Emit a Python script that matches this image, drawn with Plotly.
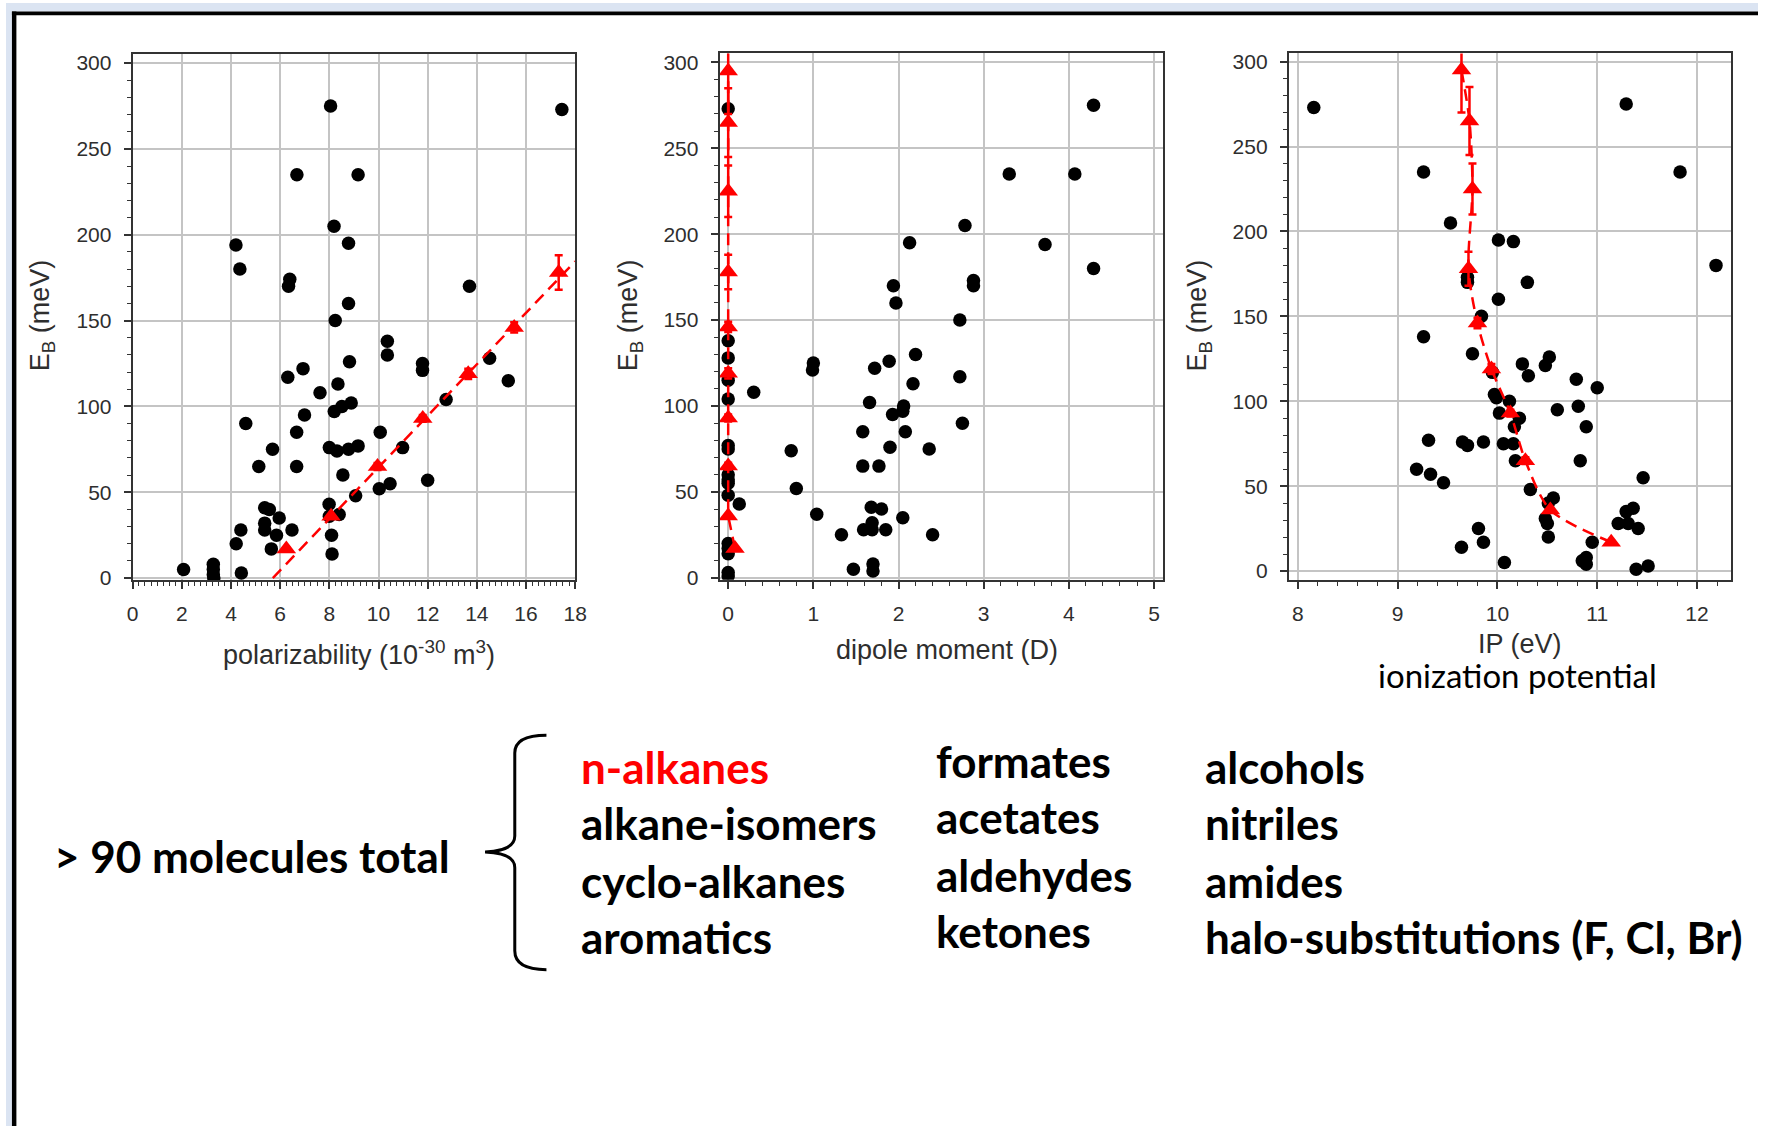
import numpy as np
import plotly.graph_objects as go

W, H = 1770, 1135

# ---------------- data ----------------
# panel 1: binding energy vs polarizability (all molecules)
pol_x = [8.05, 17.46, 6.68, 9.17, 8.19, 4.2, 8.78, 4.36, 6.39, 6.34, 13.7, 8.78, 8.24,
         10.36, 10.36, 8.82, 6.93, 6.31, 11.79, 11.79, 14.52, 15.28, 8.35,
         7.62, 12.75, 8.89, 8.51, 8.2, 6.99, 4.6, 6.67, 10.07, 5.69,
         8.0, 8.31, 8.78, 9.17, 10.98, 5.13, 6.67, 8.55, 12.0, 10.47,
         10.03, 9.07, 7.99, 5.37, 5.56, 8.4, 8.0, 5.96, 5.37, 5.37,
         4.4, 6.48, 5.85, 8.09, 4.21, 5.64, 8.11, 2.07, 3.28, 3.28,
         3.28, 3.3, 4.42]
pol_y = [275, 273, 235, 235, 205, 194, 195, 180, 174, 170, 170, 160, 150,
         138, 130, 126, 122, 117, 125, 121, 128, 115, 113,
         108, 104, 102, 100, 97, 95, 90, 85, 85, 75,
         76, 74, 75, 77, 76, 65, 65, 60, 57, 55,
         52, 48, 43, 41, 40, 37, 36, 35, 32, 28,
         28, 28, 25, 25, 20, 17, 14, 5, 8, 5,
         2, 0, 3]

# panel 2: binding energy vs dipole moment
dip_x = [0, 4.29, 3.3, 4.07, 2.78, 2.13, 3.72, 4.29, 2.88, 2.88,
         1.94, 1.97, 2.72, 0, 0, 1.0, 0.99, 1.72, 1.89, 2.2,
         2.72, 2.17, 0, 0.3, 0, 1.66, 2.06, 2.05, 1.93, 2.75,
         1.58, 2.08, 0, 0, 0.74, 1.9, 2.36, 1.58, 1.77, 0,
         0, 0, 0.8, 0, 0.13, 1.68, 1.8, 1.04, 2.05, 1.69,
         1.59, 1.69, 1.85, 1.33, 2.4, 0, 0, 0, 1.47, 1.7,
         1.7, 0, 0]
dip_y = [273, 275, 235, 235, 205, 195, 194, 180, 173, 170,
         170, 160, 150, 138, 128, 125, 121, 122, 126, 130,
         117, 113, 115, 108, 104, 102, 100, 97, 95, 90,
         85, 85, 77, 75, 74, 76, 75, 65, 65, 60,
         57, 55, 52, 48, 43, 41, 40, 37, 35, 32,
         28, 28, 28, 25, 25, 20, 17, 14, 5, 8,
         4, 3, 1]

# panel 3: binding energy vs ionization potential
ip_x = [8.16, 11.29, 9.26, 11.83, 9.53, 10.01, 10.16, 12.19, 9.70, 9.70,
        10.30, 10.01, 9.84, 9.26, 9.75, 10.25, 10.48, 10.52, 10.31, 10.79,
        11.0, 9.97, 9.99, 10.12, 10.02, 10.22, 10.6, 10.81, 10.17, 10.89,
        9.31, 9.65, 9.70, 9.86, 10.06, 10.16, 10.18, 10.83, 9.19, 9.33,
        9.46, 11.46, 10.33, 10.56, 10.51, 10.48, 10.5, 11.36, 11.29, 11.21,
        11.31, 11.41, 9.81, 10.51, 9.86, 10.95, 9.64, 10.07, 10.85, 10.89,
        10.89, 11.39, 11.51, 9.95]
ip_y = [273, 275, 235, 235, 205, 195, 194, 180, 173, 170,
        170, 160, 150, 138, 128, 122, 121, 126, 115, 113,
        108, 104, 102, 100, 93, 90, 95, 97, 85, 85,
        77, 76, 74, 76, 75, 75, 65, 65, 60, 57,
        52, 55, 48, 43, 40, 31, 28, 37, 35, 28,
        28, 25, 25, 20, 17, 17, 14, 5, 6, 8,
        4, 1, 3, 117]

# n-alkanes (red triangles)
nalk_eb = [17, 36, 65, 93, 119, 146, 178, 225, 265, 295]
nalk_err = [1, 1, 2, 2, 3, 3, 10, 15, 20, 25]
nalk_pol = [6.25, 8.07, 9.96, 11.8, 13.65, 15.52, 17.33]   # only those inside 0..18
nalk_dip = [0.08, 0, 0, 0, 0, 0, 0, 0, 0, 0]
nalk_ip = [11.14, 10.53, 10.28, 10.13, 9.94, 9.80, 9.71, 9.75, 9.72, 9.64]

# linear fit of n-alkanes vs polarizability
fit_slope = 15.0          # meV per 10^-30 m^3
fit_x_intercept = 5.7
fit_x_end = 18.0

# groups listed below the charts
col1 = ["n-alkanes", "alkane-isomers", "cyclo-alkanes", "aromatics"]
col2 = ["formates", "acetates", "aldehydes", "ketones"]
col3 = ["alcohols", "nitriles", "amides", "halo-substitutions (F, Cl, Br)"]

# ---------------- helpers ----------------
def fx(p):
    return p / W


def fy(p):
    return 1 - p / H


RED = "#ff0000"
TICKFONT = dict(family="Liberation Sans, Arial, sans-serif", size=21, color="#2e2e2e")
TITLEFONT = dict(family="Liberation Sans, Arial, sans-serif", size=27, color="#2e2e2e")
TEXTFONT = dict(family="Lato, sans-serif", size=44, color="#000000")

fig = go.Figure()

dot = dict(color="black", size=13.5, line=dict(width=0))
tri = dict(color=RED, size=17, symbol="triangle-up", line=dict(width=0))
dash_line = dict(color=RED, width=2.5, dash="12px,7px")
err = lambda arr: dict(type="data", array=arr, color=RED, thickness=2.5, width=4)

# panel 1
fig.add_trace(go.Scatter(x=pol_x, y=pol_y, mode="markers", marker=dot,
                         xaxis="x", yaxis="y", showlegend=False))
fit_x = np.array([fit_x_intercept, fit_x_end])
fit_y = fit_slope * (fit_x - fit_x_intercept)
fig.add_trace(go.Scatter(x=fit_x, y=fit_y, mode="lines", line=dash_line,
                         xaxis="x", yaxis="y", showlegend=False))
n_pol = len(nalk_pol)
fig.add_trace(go.Scatter(x=nalk_pol, y=nalk_eb[:n_pol], mode="markers", marker=tri,
                         error_y=err(nalk_err[:n_pol]),
                         xaxis="x", yaxis="y", showlegend=False))

# panel 2
fig.add_trace(go.Scatter(x=dip_x, y=dip_y, mode="markers", marker=dot,
                         xaxis="x2", yaxis="y2", showlegend=False))
fig.add_trace(go.Scatter(x=nalk_dip, y=nalk_eb, mode="lines", line=dash_line,
                         xaxis="x2", yaxis="y2", showlegend=False))
fig.add_trace(go.Scatter(x=nalk_dip, y=nalk_eb, mode="markers", marker=tri,
                         error_y=err(nalk_err),
                         xaxis="x2", yaxis="y2", showlegend=False))

# panel 3
fig.add_trace(go.Scatter(x=ip_x, y=ip_y, mode="markers", marker=dot,
                         xaxis="x3", yaxis="y3", showlegend=False))
fig.add_trace(go.Scatter(x=nalk_ip, y=nalk_eb, mode="lines",
                         line=dict(dash_line, shape="spline", smoothing=0.8),
                         xaxis="x3", yaxis="y3", showlegend=False))
fig.add_trace(go.Scatter(x=nalk_ip, y=nalk_eb, mode="markers", marker=tri,
                         error_y=err(nalk_err),
                         xaxis="x3", yaxis="y3", showlegend=False))


def xax(dom, rng, dtick, minor, anchor):
    return dict(domain=[fx(dom[0]), fx(dom[1])], range=rng, dtick=dtick, tick0=0,
                anchor=anchor, showline=True, mirror=True, linecolor="#333333",
                linewidth=2, ticks="outside", ticklen=7, tickwidth=1.5,
                tickcolor="#333333", showgrid=True, gridcolor="#c4c4c4",
                gridwidth=1.5, zeroline=False, tickfont=TICKFONT,
                ticklabelstandoff=7,
                minor=dict(dtick=minor, tick0=0, ticks="outside", ticklen=4,
                           tickwidth=1.2, tickcolor="#333333", showgrid=False))


def yax(dom, rng, anchor):
    return dict(domain=[fy(dom[1]), fy(dom[0])], range=rng, dtick=50, tick0=0,
                anchor=anchor, showline=True, mirror=True, linecolor="#333333",
                linewidth=2, ticks="outside", ticklen=7, tickwidth=1.5,
                tickcolor="#333333", showgrid=True, gridcolor="#c4c4c4",
                gridwidth=1.5, zeroline=False, tickfont=TICKFONT,
                ticklabelstandoff=8,
                minor=dict(dtick=10, tick0=0, ticks="outside", ticklen=4,
                           tickwidth=1.2, tickcolor="#333333", showgrid=False))


annotations = []


def ann(text, x, y, font, xanchor="center", yanchor="middle", angle=0):
    annotations.append(dict(text=text, x=fx(x), y=fy(y), xref="paper", yref="paper",
                            showarrow=False, font=font, xanchor=xanchor,
                            yanchor=yanchor, textangle=angle))


# axis titles
ann("polarizability (10<sup>-30</sup> m<sup>3</sup>)", 357, 657, TITLEFONT)
ann("dipole moment (D)", 951, 654, TITLEFONT)
ann("IP (eV)", 1530, 648, TITLEFONT)
ann("ionization potential", 1527, 679,
    dict(family="Lato, sans-serif", size=33, color="#000000"))
for xpos in (36, 630, 1205):
    ann("E<sub>B</sub> (meV)", xpos, 316, TITLEFONT, angle=-90)

# text block
ann("<b>&gt; 90 molecules total</b>", 46, 862, TEXTFONT, xanchor="left")
col1_y = [772, 829, 887, 944]
col2_y = [766, 823, 881, 938]
col3_y = [772, 829, 887, 944]
for i, t in enumerate(col1):
    f = dict(TEXTFONT, color=RED) if i == 0 else TEXTFONT
    ann("<b>" + t + "</b>", 579, col1_y[i], f, xanchor="left")
for i, t in enumerate(col2):
    ann("<b>" + t + "</b>", 938, col2_y[i], TEXTFONT, xanchor="left")
for i, t in enumerate(col3):
    ann("<b>" + t + "</b>", 1209, col3_y[i], TEXTFONT, xanchor="left")

# decorative frame and brace
BLUE = "#dbe4f2"
shapes = [
    dict(type="rect", xref="paper", yref="paper", x0=0, x1=1, y0=fy(8.5), y1=1,
         fillcolor=BLUE, line=dict(width=0), layer="below"),
    dict(type="rect", xref="paper", yref="paper", x0=0, x1=fx(6), y0=0, y1=1,
         fillcolor=BLUE, line=dict(width=0), layer="below"),
    dict(type="rect", xref="paper", yref="paper", x0=fx(6), x1=1, y0=fy(12.5), y1=fy(8.5),
         fillcolor="black", line=dict(width=0)),
    dict(type="rect", xref="paper", yref="paper", x0=fx(6), x1=fx(10.5), y0=0, y1=fy(8.5),
         fillcolor="black", line=dict(width=0)),
]


def P(x, y):
    return f"{fx(x):.5f},{fy(y):.5f}"


brace = ("M " + P(546, 740) + " Q " + P(514, 740) + " " + P(514, 758) +
         " L " + P(514, 842) + " Q " + P(514, 857) + " " + P(484, 858) +
         " Q " + P(514, 859) + " " + P(514, 874) +
         " L " + P(514, 958) + " Q " + P(514, 977) + " " + P(546, 977))
shapes.append(dict(type="path", xref="paper", yref="paper", path=brace,
                   line=dict(color="black", width=3)))

fig.update_layout(
    width=W, height=H,
    margin=dict(l=0, r=0, t=0, b=0),
    paper_bgcolor="white", plot_bgcolor="white",
    xaxis=xax((128, 575), [0, 18], 2, 0.25, "y"),
    yaxis=yax((51.7, 583.3), [-1.2, 305.2], "x"),
    xaxis2=xax((721, 1169.3), [-0.1, 5.11], 1, 0.2, "y2"),
    yaxis2=yax((51.0, 583.0), [-1.2, 305.2], "x2"),
    xaxis3=xax((1296, 1742.7), [7.91, 12.34], 1, 0.2, "y3"),
    yaxis3=yax((51.0, 582.7), [-5.0, 304.8], "x3"),
    annotations=annotations,
    shapes=shapes,
)

fig.write_html("out.html")
